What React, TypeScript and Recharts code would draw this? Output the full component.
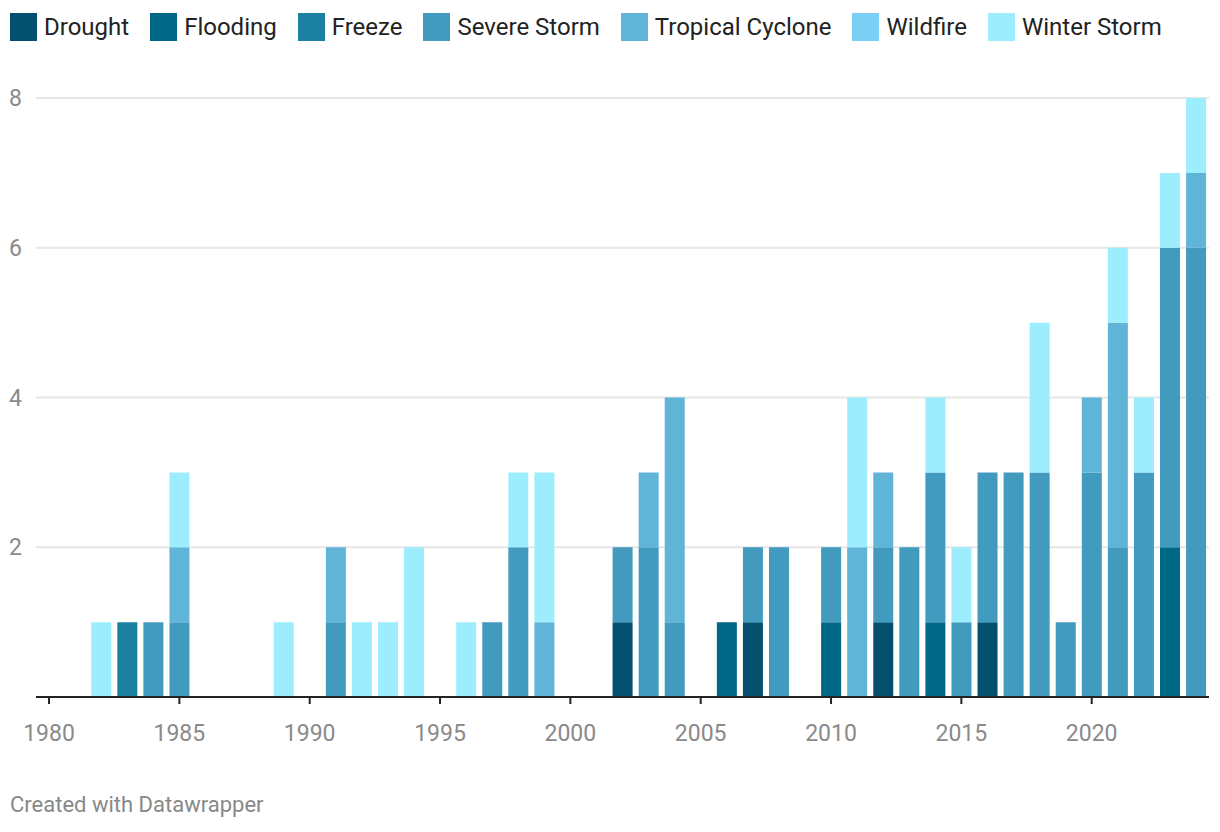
import React from 'react';
import { BarChart, Bar, XAxis, YAxis, CartesianGrid } from 'recharts';

const years = [
  1980, 1981, 1982, 1983, 1984, 1985, 1986, 1987, 1988, 1989,
  1990, 1991, 1992, 1993, 1994, 1995, 1996, 1997, 1998, 1999,
  2000, 2001, 2002, 2003, 2004, 2005, 2006, 2007, 2008, 2009,
  2010, 2011, 2012, 2013, 2014, 2015, 2016, 2017, 2018, 2019,
  2020, 2021, 2022, 2023, 2024,
];

// counts per year, 1980..2024
const drought = [
  0, 0, 0, 0, 0, 0, 0, 0, 0, 0,
  0, 0, 0, 0, 0, 0, 0, 0, 0, 0,
  0, 0, 1, 0, 0, 0, 0, 1, 0, 0,
  0, 0, 1, 0, 0, 0, 1, 0, 0, 0,
  0, 0, 0, 0, 0,
];
const flooding = [
  0, 0, 0, 0, 0, 0, 0, 0, 0, 0,
  0, 0, 0, 0, 0, 0, 0, 0, 0, 0,
  0, 0, 0, 0, 0, 0, 1, 0, 0, 0,
  1, 0, 0, 0, 1, 0, 0, 0, 0, 0,
  0, 0, 0, 2, 0,
];
const freeze = [
  0, 0, 0, 1, 0, 0, 0, 0, 0, 0,
  0, 0, 0, 0, 0, 0, 0, 0, 0, 0,
  0, 0, 0, 0, 0, 0, 0, 0, 0, 0,
  0, 0, 0, 0, 0, 0, 0, 0, 0, 0,
  0, 0, 0, 0, 0,
];
const severeStorm = [
  0, 0, 0, 0, 1, 1, 0, 0, 0, 0,
  0, 1, 0, 0, 0, 0, 0, 1, 2, 0,
  0, 0, 1, 2, 1, 0, 0, 1, 2, 0,
  1, 0, 1, 2, 2, 1, 2, 3, 3, 1,
  3, 2, 3, 4, 6,
];
const tropicalCyclone = [
  0, 0, 0, 0, 0, 1, 0, 0, 0, 0,
  0, 1, 0, 0, 0, 0, 0, 0, 0, 1,
  0, 0, 0, 1, 3, 0, 0, 0, 0, 0,
  0, 2, 1, 0, 0, 0, 0, 0, 0, 0,
  1, 3, 0, 0, 1,
];
const wildfire = [
  0, 0, 0, 0, 0, 0, 0, 0, 0, 0,
  0, 0, 0, 0, 0, 0, 0, 0, 0, 0,
  0, 0, 0, 0, 0, 0, 0, 0, 0, 0,
  0, 0, 0, 0, 0, 0, 0, 0, 0, 0,
  0, 0, 0, 0, 0,
];
const winterStorm = [
  0, 0, 1, 0, 0, 1, 0, 0, 0, 1,
  0, 0, 1, 1, 2, 0, 1, 0, 1, 2,
  0, 0, 0, 0, 0, 0, 0, 0, 0, 0,
  0, 2, 0, 0, 1, 1, 0, 0, 2, 0,
  0, 1, 1, 1, 1,
];

const yTicks = [2, 4, 6, 8];

const series = [
  { key: 'drought', name: 'Drought', color: '#02506e', values: drought },
  { key: 'flooding', name: 'Flooding', color: '#006887', values: flooding },
  { key: 'freeze', name: 'Freeze', color: '#1c80a0', values: freeze },
  { key: 'severe', name: 'Severe Storm', color: '#429bbe', values: severeStorm },
  { key: 'tropical', name: 'Tropical Cyclone', color: '#5fb4d8', values: tropicalCyclone },
  { key: 'wildfire', name: 'Wildfire', color: '#7ccff4', values: wildfire },
  { key: 'winter', name: 'Winter Storm', color: '#9cedfe', values: winterStorm },
];

const data = years.map((year, i) => {
  const row: Record<string, number> = { year };
  series.forEach((s) => {
    row[s.key] = s.values[i];
  });
  return row;
});

const FONT = 'Roboto, "Noto Sans", sans-serif';

export default function App() {
  return (
    <div style={{ position: 'absolute', top: 0, left: 0, width: 1220, height: 832, background: '#fff', fontFamily: FONT }}>
      <div style={{ position: 'absolute', top: 13, left: 10, display: 'flex', alignItems: 'center' }}>
        {series.map((s) => (
          <div key={s.key} style={{ display: 'flex', alignItems: 'center', marginRight: 21 }}>
            <div style={{ width: 27, height: 28, background: s.color }} />
            <span style={{ marginLeft: 7, fontSize: 24, color: '#222', lineHeight: '28px' }}>{s.name}</span>
          </div>
        ))}
      </div>

      <div style={{ position: 'absolute', top: 0, left: 0 }}>
        <BarChart
          width={1220}
          height={770}
          data={data}
          margin={{ top: 98, right: 11, left: 0, bottom: 0 }}
          barCategoryGap="12%"
        >
          <CartesianGrid vertical={false} stroke="#e6e6e6" strokeWidth={2} />
          <XAxis
            dataKey="year"
            interval={4}
            height={73}
            tickSize={7}
            tickMargin={21}
            axisLine={{ stroke: '#222', strokeWidth: 2 }}
            tickLine={{ stroke: '#222', strokeWidth: 2 }}
            tick={{ fill: '#8a8a8a', fontSize: 23, fontFamily: FONT }}
          />
          <YAxis
            domain={[0, 8]}
            ticks={yTicks}
            width={36}
            axisLine={false}
            tickLine={false}
            tickSize={0}
            tickMargin={14}
            tick={{ fill: '#8a8a8a', fontSize: 23, fontFamily: FONT }}
          />
          {series.map((s) => (
            <Bar
              key={s.key}
              dataKey={s.key}
              name={s.name}
              stackId="a"
              fill={s.color}
              isAnimationActive={false}
            />
          ))}
        </BarChart>
      </div>

      <div style={{ position: 'absolute', top: 792, left: 10, fontSize: 22, color: '#888' }}>
        Created with Datawrapper
      </div>
    </div>
  );
}
